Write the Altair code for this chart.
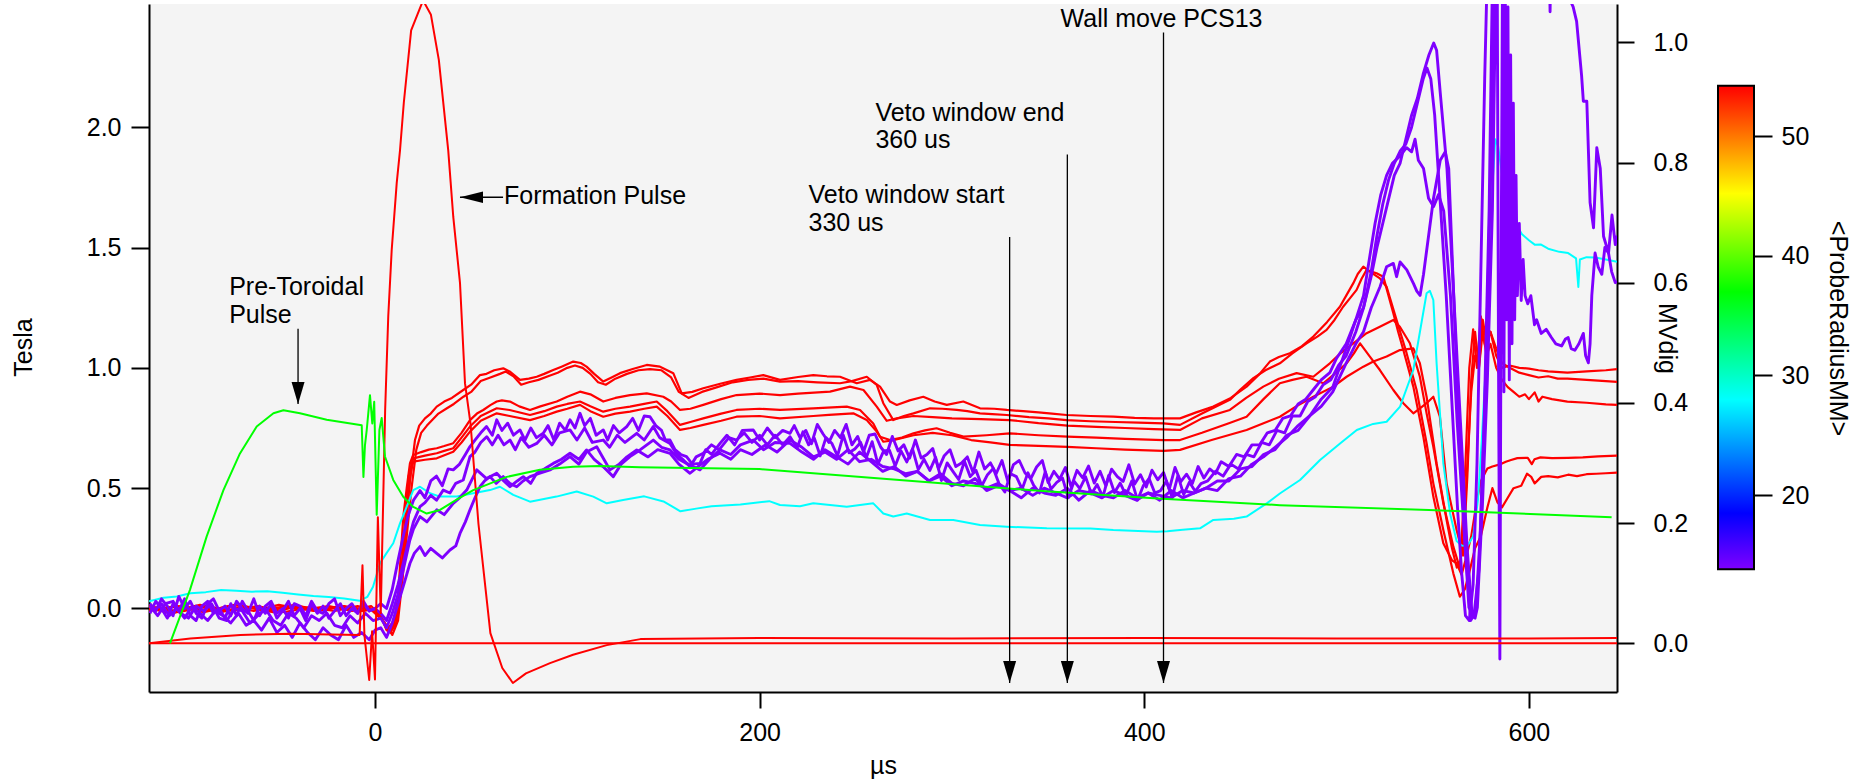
import altair as alt
import pandas as pd

FONT = "Liberation Sans"

# ---------------- axes / scales ----------------
X_DOMAIN = [-117.5, 645.8]
TESLA_DOMAIN = [-0.347, 2.512]
MV_DOMAIN = [-0.081, 1.064]
CBAR_DOMAIN = [3.55, 61.03]
CBAR_RANGE = [13.8, 54.2]

X_TICKS = [0, 200, 400, 600]
TESLA_TICKS = [0.0, 0.5, 1.0, 1.5, 2.0]
MV_TICKS = [0.0, 0.2, 0.4, 0.6, 0.8, 1.0]
CBAR_TICKS = [20, 30, 40, 50]

RADIUS_STOPS = [14, 18.5, 28, 37, 45.2, 54]
RADIUS_COLORS = ["#7f00ff", "#0000ff", "#00ffff", "#00ff00", "#ffff00", "#ff0000"]
CBAR_OFFSETS = [0.0, 0.116, 0.351, 0.574, 0.777, 1.0]

# ---------------- Tesla (left axis) probe traces: (µs, T) ----------------
RED_A = [(-117.5,0.0),(-105,-0.02),(-92,0.01),(-80,-0.015),(-68,0.01),(-55,-0.01),(-42,0.015),(-30,-0.01),(-18,0.01),(-8,0.0),(-2,0.01),(3,-0.03),(6,-0.09),(9,-0.08),(11,-0.02),(13,0.1),(15.5,0.3),(18.2,0.534),(20.8,0.70),(23,0.76),(26,0.79),(29,0.81),(32.1,0.839),(36,0.86),(40,0.875),(45.9,0.908),(50,0.93),(54.6,0.97),(58,0.975),(62,0.99),(66.7,0.998),(70,0.985),(75.4,0.95),(80,0.955),(84.1,0.963),(88,0.975),(92.7,0.991),(97,1.005),(103.1,1.026),(107,1.02),(110,1.005),(114,0.975),(118.7,0.943),(123,0.96),(127.4,0.978),(134,0.995),(141.3,1.012),(148.2,1.005),(155.1,0.978),(159.5,0.894),(165,0.9),(170.7,0.915),(180,0.935),(188,0.95),(195,0.96),(201.9,0.97),(210.6,0.95),(220,0.962),(227.9,0.97),(235,0.965),(241.8,0.963),(250.5,0.936),(257.4,0.95),(262.6,0.922),(267.8,0.86),(271.3,0.846),(278,0.865),(285.1,0.88),(291,0.86),(297.3,0.846),(305.9,0.86),(314.6,0.832),(322,0.83),(328.5,0.825),(337,0.82),(345,0.815),(352,0.81),(359.6,0.804),(372,0.8),(383.9,0.797),(395,0.792),(405,0.79),(418.6,0.79),(427,0.815),(435.9,0.839),(445,0.875),(453.2,0.922),(460,0.975),(465.3,1.026),(470,1.045),(475.7,1.061),(482,1.09),(487.9,1.13),(495,1.19),(501.7,1.254),(505,1.3),(508.7,1.352),(511,1.39),(513.9,1.421),(517.3,1.40),(522.5,1.372),(526,1.337),(531.2,1.199),(536.4,1.061),(541.6,0.908),(546.8,0.687),(550.3,0.52),(555.5,0.326),(560.7,0.146),(564.1,0.049),(566.7,0.08),(569,0.15),(572,0.25),(575,0.3),(578.4,0.42),(581,0.5),(583.7,0.44),(586,0.42),(589,0.46),(592,0.5),(596,0.51),(599,0.56),(601.2,0.547),(603,0.52),(606.4,0.547),(610,0.55),(615,0.545),(620.4,0.556),(625,0.55),(630,0.558),(635,0.56),(640,0.562),(645.8,0.565)]

RED_B = [(-117.5,0.01),(-104,-0.01),(-91,0.015),(-78,-0.01),(-66,0.005),(-53,-0.015),(-40,0.01),(-28,-0.005),(-16,0.01),(-6,-0.01),(0,0.0),(4,-0.05),(7,-0.1),(10,-0.06),(12,0.0),(14,0.1),(16.5,0.3),(19,0.5),(21.5,0.66),(24,0.73),(27,0.76),(30,0.785),(33,0.81),(37,0.83),(41,0.85),(46,0.88),(50,0.9),(55,0.945),(60,0.96),(65,0.975),(68,0.985),(72,0.965),(76,0.93),(80,0.94),(85,0.95),(90,0.965),(95,0.98),(100,1.0),(104,1.01),(108,1.0),(112,0.975),(116,0.94),(120,0.93),(125,0.955),(131,0.975),(137,0.99),(143,0.995),(149,0.99),(154,0.96),(158,0.9),(163,0.875),(170,0.9),(178,0.92),(186,0.94),(194,0.95),(202,0.955),(210.6,0.943),(220,0.945),(230,0.94),(241.8,0.936),(248,0.945),(255.7,0.963),(260.9,0.929),(264.3,0.853),(269.5,0.783),(275,0.8),(280,0.811),(288.6,0.832),(295,0.83),(302.5,0.825),(308,0.82),(314.6,0.811),(321,0.808),(328.5,0.804),(340,0.795),(350,0.79),(359.6,0.783),(372,0.778),(385,0.775),(397,0.772),(409.9,0.769),(418.6,0.763),(430,0.81),(444.5,0.867),(450,0.91),(456.7,0.957),(463,0.99),(470.5,1.019),(477,1.06),(484.4,1.102),(490,1.13),(494.8,1.158),(499,1.2),(503.4,1.254),(507,1.29),(510.4,1.324),(513,1.37),(515.6,1.407),(518,1.40),(520.8,1.393),(524.3,1.379),(527,1.3),(529.5,1.227),(532,1.15),(534.7,1.074),(539.9,0.922),(545.1,0.714),(550.3,0.465),(555.5,0.271),(560,0.2),(562.4,0.188),(565,0.14),(567,0.2),(570,0.3),(573,0.45),(575,0.53),(578.4,0.582),(581,0.59),(585.4,0.6),(588,0.61),(590.7,0.617),(594,0.625),(599.4,0.626),(601.5,0.6),(602.9,0.62),(606,0.628),(612,0.625),(620.4,0.626),(628,0.628),(636,0.632),(645.8,0.635)]

RED_C = [(-117.5,-0.01),(-103,0.01),(-89,-0.015),(-76,0.01),(-63,-0.01),(-50,0.015),(-37,-0.005),(-24,0.01),(-12,-0.01),(-3,0.005),(3,-0.04),(7,-0.08),(10,-0.05),(12,0.05),(14.7,0.38),(16.5,0.5),(18.2,0.604),(19.9,0.638),(24,0.65),(28,0.66),(32.1,0.666),(36,0.675),(40.7,0.687),(45,0.73),(49.4,0.783),(53,0.81),(56.3,0.825),(60,0.845),(63.3,0.86),(66,0.865),(70.2,0.86),(75,0.84),(80.6,0.825),(86,0.84),(94.5,0.86),(100,0.88),(106.6,0.901),(112,0.89),(118.7,0.86),(125,0.875),(132.6,0.887),(141.3,0.894),(149.9,0.88),(154,0.86),(158.6,0.825),(164,0.83),(170.7,0.846),(180,0.87),(188,0.887),(200,0.893),(210.6,0.887),(220,0.893),(236.6,0.901),(247,0.922),(254,0.908),(260.9,0.839),(266.1,0.78),(271.3,0.79),(280,0.80),(290,0.795),(300,0.79),(315,0.787),(330,0.783),(345,0.77),(360,0.76),(375,0.755),(390,0.75),(405,0.745),(418.6,0.742),(430,0.79),(444.5,0.825),(453,0.875),(461.9,0.922),(470,0.955),(479.2,0.978),(487.9,0.963),(496.5,1.019),(502,1.06),(508.7,1.102),(515.6,1.144),(522.5,1.171),(529.5,1.199),(532.9,1.171),(538.1,1.102),(543.3,0.963),(546.8,0.811),(550.3,0.672),(555.5,0.437),(560.7,0.257),(564,0.17),(566,0.3),(568,0.6),(570,0.9),(572,1.05),(574,1.0),(576,1.15),(578,1.05),(580,1.1),(583,1.0),(586,0.95),(589,0.92),(592,0.9),(595,0.88),(598,0.89),(600,0.87),(603,0.898),(605,0.86),(607,0.88),(612,0.87),(620,0.86),(630,0.855),(640,0.848),(645.8,0.846)]

RED_D = [(-117.5,0.005),(-102,-0.015),(-88,0.01),(-74,-0.01),(-61,0.01),(-47,-0.015),(-34,0.005),(-21,-0.01),(-9,0.01),(-2,-0.005),(4,-0.05),(8,-0.1),(11,-0.06),(13,0.05),(15.5,0.35),(17.5,0.55),(19.9,0.624),(26,0.635),(32.1,0.645),(36,0.655),(40.7,0.666),(45,0.71),(49.4,0.756),(55,0.8),(63.3,0.832),(70,0.825),(80.6,0.804),(88,0.82),(94.5,0.839),(100,0.85),(106.6,0.86),(112,0.84),(118.7,0.818),(125,0.83),(132.6,0.839),(140,0.85),(146.5,0.86),(152,0.82),(158.6,0.763),(164,0.775),(170.7,0.79),(180,0.81),(188,0.825),(200,0.83),(210.6,0.825),(227.9,0.832),(245.3,0.839),(252.2,0.825),(259.1,0.769),(262.6,0.714),(267.8,0.70),(274,0.71),(280,0.728),(286,0.74),(292,0.749),(299,0.73),(306,0.714),(318,0.72),(330,0.728),(345,0.72),(360,0.714),(375,0.71),(390,0.705),(410,0.70),(418.6,0.70),(430,0.73),(444,0.77),(453.2,0.797),(462,0.87),(470.5,0.936),(477,0.95),(484.4,0.963),(493.1,0.936),(499,0.975),(505.2,1.019),(509,1.06),(512.2,1.102),(517.3,1.047),(522.5,0.991),(529.5,0.908),(534.7,0.853),(539.9,0.811),(543,0.83),(546.8,0.853),(550.3,0.88),(553.7,0.797),(557.2,0.52),(562.4,0.326),(565.8,0.22),(568,0.55),(570,0.95),(572,1.15),(574,1.0),(576,1.2),(578,1.1),(580,1.15),(583,1.08),(586,1.02),(590,1.0),(595,0.98),(600,0.97),(605,0.96),(610,0.965),(615,0.955),(620,0.955),(630,0.95),(640,0.945),(645.8,0.942)]

RED_E = [(-117.5,-0.005),(-101,0.01),(-87,-0.01),(-73,0.015),(-59,-0.005),(-45,0.01),(-32,-0.01),(-19,0.005),(-7,-0.01),(0,0.0),(5,-0.06),(9,-0.11),(12,-0.05),(14,0.1),(16.5,0.4),(18.5,0.56),(19.9,0.61),(26,0.618),(32.1,0.624),(40.7,0.651),(45,0.69),(49.4,0.735),(55,0.78),(63.3,0.811),(70,0.8),(80.6,0.783),(88,0.8),(94.5,0.818),(100,0.83),(106.6,0.846),(112,0.82),(118.7,0.797),(125,0.81),(132.6,0.818),(140,0.83),(146.5,0.839),(152,0.8),(158.6,0.742),(164,0.75),(170.7,0.763),(180,0.78),(188,0.797),(200,0.8),(210.6,0.79),(227.9,0.8),(236,0.805),(248.7,0.811),(255.7,0.783),(260.9,0.735),(264.3,0.693),(270,0.70),(280,0.72),(290,0.73),(300,0.72),(310,0.7),(320,0.69),(330,0.68),(345,0.676),(360,0.672),(375,0.666),(390,0.66),(409.9,0.655),(418.6,0.659),(435,0.7),(453.2,0.742),(462,0.77),(470.5,0.797),(479,0.84),(487.9,0.88),(498.3,0.922),(505.2,0.963),(513.9,1.005),(519.1,1.026),(526,1.047),(532.9,1.074),(539.9,1.081),(543.3,1.019),(546.8,0.88),(552,0.603),(557.2,0.368),(560,0.25),(562.5,0.17),(564.5,0.2),(567,0.6),(569,1.0),(571,1.16),(573,1.0),(575,1.214),(577,1.1),(580,1.15),(583,1.05),(586,1.0),(590,1.01),(595,1.0),(600,0.997),(605,0.99),(610,0.985),(620,0.98),(630,0.985),(640,0.99),(645.8,0.995)]

CYAN = [(-117.5,0.03),(-110,0.045),(-103,0.05),(-96,0.063),(-88,0.068),(-80,0.077),(-72,0.074),(-64,0.07),(-56,0.072),(-48,0.065),(-40,0.058),(-32,0.052),(-24,0.048),(-16,0.042),(-8,0.032),(-4,0.048),(-1,0.09),(2.6,0.188),(6,0.23),(9.5,0.271),(13,0.354),(16.5,0.423),(19.9,0.492),(23.4,0.506),(28.6,0.479),(33.8,0.465),(42.5,0.465),(51.1,0.479),(59.8,0.492),(65,0.506),(71.9,0.472),(80.6,0.444),(94.4,0.465),(104.9,0.486),(113.5,0.465),(120.5,0.437),(129,0.451),(140,0.466),(150,0.445),(158.8,0.404),(167,0.415),(175,0.425),(190,0.432),(205,0.446),(210.6,0.43),(221,0.425),(227.9,0.437),(245.3,0.423),(259.1,0.437),(264.3,0.395),(269.5,0.382),(276.5,0.395),(288.6,0.368),(300.7,0.368),(314.6,0.347),(328.5,0.34),(349.3,0.333),(372,0.332),(383.9,0.326),(406.5,0.319),(412,0.321),(418.6,0.326),(429,0.333),(435.9,0.368),(446.6,0.373),(453.2,0.382),(463.7,0.437),(470.5,0.478),(481,0.534),(491.4,0.617),(501.8,0.686),(510.5,0.742),(519,0.767),(526,0.776),(533,0.839),(539.9,0.991),(546.8,1.31),(548.5,1.32),(550.3,1.282),(552,1.019),(555.5,0.603),(559,0.395),(562.4,0.28),(565,0.262),(568,0.26),(571,0.3),(573.5,0.45),(575.5,0.7),(577.5,1.0),(579.5,1.4),(581,1.75),(582.5,1.95),(584,1.92),(587,1.75),(590.6,1.658),(593,1.6),(596.4,1.555),(600,1.53),(603,1.512),(606.1,1.513),(610,1.495),(615.8,1.482),(620.4,1.477),(624.5,1.455),(625.7,1.336),(626.5,1.45),(630,1.46),(634.4,1.459),(640,1.45),(645.8,1.441)]

PURPLE_A = [(-117,0.02),(-114,-0.01),(-111,0.04),(-108,0.01),(-105,-0.03),(-102,0.05),(-99,0.0),(-96,0.03),(-93,-0.02),(-90,-0.04),(-87,0.02),(-84,0.04),(-81,-0.01),(-78,0.01),(-75,-0.03),(-72,0.03),(-69,0.0),(-66,-0.02),(-63,0.04),(-60,-0.03),(-57,0.01),(-54,0.03),(-51,-0.02),(-48,0.0),(-45,-0.04),(-42,0.02),(-39,0.01),(-36,-0.03),(-33,0.03),(-30,-0.01),(-27,-0.02),(-24,0.02),(-21,0.04),(-18,-0.03),(-15,0.0),(-12,0.02),(-9,-0.02),(-6,0.03),(-3,-0.01),(0,0.0),(3,0.02),(6,0.0),(9,0.08),(12,0.2),(14.7,0.3),(17,0.38),(20,0.45),(23.4,0.49),(26,0.46),(29,0.53),(32,0.55),(35,0.51),(38,0.58),(40.7,0.576),(44,0.6),(47,0.64),(49.4,0.673),(52,0.7),(55,0.73),(58,0.756),(61,0.72),(63.3,0.784),(66,0.74),(69,0.77),(72,0.72),(75.4,0.742),(78,0.70),(81,0.75),(84,0.71),(87.5,0.728),(90,0.76),(93,0.70),(96,0.77),(99,0.74),(101.4,0.784),(104,0.75),(106.6,0.811),(109,0.76),(112,0.79),(115,0.72),(118.7,0.742),(121,0.70),(124,0.76),(127,0.73),(130.9,0.756),(134,0.79),(137,0.74),(140,0.80),(143,0.797),(146,0.76),(149,0.74),(151,0.70),(153.4,0.70),(156,0.66),(159,0.64),(162,0.631),(165,0.60),(169,0.603),(172,0.66),(175,0.64),(179.4,0.686),(183,0.72),(187,0.68),(191,0.74),(196.7,0.742),(200,0.70),(204,0.75),(208,0.71),(212,0.74),(215.8,0.728),(218,0.76),(221,0.71),(224,0.74),(227,0.685),(230,0.765),(233,0.725),(236,0.69),(239,0.74),(242,0.71),(245,0.765),(248,0.68),(251,0.715),(254,0.65),(257,0.72),(260,0.725),(263,0.67),(266,0.64),(269,0.715),(272,0.655),(275,0.68),(278,0.625),(281,0.70),(284,0.625),(287,0.64),(290,0.665),(293,0.58),(296,0.635),(299,0.66),(302,0.59),(305,0.605),(308,0.63),(311,0.565),(314,0.65),(317,0.58),(320,0.605),(323,0.56),(326,0.615),(329,0.53),(332,0.598),(335,0.615),(338,0.563),(341,0.54),(344,0.588),(347,0.615),(350,0.523),(353,0.57),(356,0.538),(359,0.586),(362,0.505),(365,0.574),(368,0.543),(371,0.592),(374,0.521),(377,0.57),(380,0.51),(383,0.579),(386,0.548),(389,0.528),(392,0.597),(395,0.517),(398,0.556),(401,0.505),(404,0.575),(407,0.535),(410,0.565),(413,0.495),(416,0.586),(419,0.527),(422,0.558),(425,0.519),(428,0.59),(431,0.542),(434,0.58),(437,0.56),(440,0.61),(444,0.59),(448,0.64),(452,0.63),(456,0.68),(460,0.68),(464,0.73),(468,0.74),(472,0.79),(476,0.80),(480,0.85),(484,0.87),(488,0.91),(492,0.95),(496.5,0.98),(500,1.04),(505,1.10),(510,1.20),(514,1.25),(518,1.38),(521,1.50),(524,1.60),(527,1.70),(530,1.80),(533,1.85),(536,1.95),(539,2.05),(542,2.12),(545,2.22),(548,2.30),(550.5,2.35),(552,2.32),(553.9,2.143),(557.4,1.828),(560.9,1.301),(564.4,0.775),(567.9,0.249),(570.5,-0.032),(572,-0.04),(573.2,0.004),(575.8,0.424),(578.4,0.951),(581,1.652),(582.8,2.6),(583.5,2.7),(584.2,1.0),(584.9,-0.21),(585.6,1.5),(586.3,2.7),(587,0.9),(587.7,2.6),(588.4,1.2),(589.1,2.5),(589.8,0.95),(590.5,2.3),(591.2,1.1),(591.9,2.1),(592.6,1.2),(593.3,1.8),(594,1.3),(595,1.6),(596,1.28),(597,1.45),(598,1.3),(599.4,1.266),(601,1.3),(602.9,1.179),(604,1.2),(606.4,1.143),(609,1.16),(611.7,1.126),(614,1.10),(617,1.091),(619,1.12),(620.4,1.126),(622,1.08),(623.9,1.073),(626,1.10),(628.3,1.143),(629.5,1.05),(630.9,1.021),(631.8,1.10),(632.7,1.301),(634.4,1.477),(636,1.42),(637.9,1.389),(639.5,1.50),(641.4,1.477),(643,1.40),(644.9,1.354),(645.8,1.36)]

PURPLE_B = [(-117,-0.02),(-114,0.03),(-111,0.0),(-108,-0.04),(-105,0.02),(-102,-0.01),(-99,0.04),(-96,-0.03),(-93,-0.05),(-90,0.01),(-87,0.03),(-84,-0.02),(-81,0.0),(-78,-0.04),(-75,0.02),(-72,-0.03),(-69,0.03),(-66,-0.01),(-63,-0.05),(-60,0.01),(-57,-0.02),(-54,0.02),(-51,-0.04),(-48,-0.01),(-45,0.03),(-42,-0.03),(-39,0.0),(-36,-0.05),(-33,0.02),(-30,-0.02),(-27,0.01),(-24,-0.04),(-21,-0.01),(-18,0.02),(-15,-0.03),(-12,0.0),(-9,-0.02),(-6,0.02),(-3,-0.01),(0,0.0),(3,-0.02),(6,-0.05),(9,0.02),(12,0.10),(14.7,0.188),(18,0.30),(20,0.36),(23.4,0.423),(26,0.44),(29,0.47),(32,0.45),(35.5,0.492),(39,0.48),(42,0.52),(45.9,0.534),(49.4,0.631),(52,0.65),(55,0.69),(58.1,0.714),(61,0.68),(64,0.72),(67,0.68),(70.2,0.70),(73,0.66),(76,0.71),(80,0.67),(84.1,0.686),(88,0.72),(92,0.68),(96,0.73),(101.4,0.742),(105,0.70),(109,0.75),(113,0.69),(118.7,0.70),(122,0.67),(126,0.72),(130,0.69),(136.1,0.728),(140,0.70),(144.7,0.756),(148,0.71),(153.4,0.686),(157,0.64),(160,0.62),(163.8,0.589),(167,0.63),(170.7,0.645),(175,0.68),(179,0.66),(184,0.71),(188,0.70),(192,0.73),(196,0.69),(200,0.72),(204,0.68),(208,0.72),(212,0.68),(215.8,0.714),(219.5,0.667),(222.5,0.734),(225.5,0.68),(228.5,0.707),(231.5,0.634),(234.5,0.71),(237.5,0.687),(240.5,0.634),(243.5,0.72),(246.5,0.647),(249.5,0.663),(252.5,0.69),(255.5,0.627),(258.5,0.693),(261.5,0.60),(264.5,0.655),(267.5,0.658),(270.5,0.592),(273.5,0.655),(276.5,0.609),(279.5,0.663),(282.5,0.577),(285.5,0.62),(288.5,0.574),(291.5,0.628),(294.5,0.532),(297.5,0.605),(300.5,0.57),(303.5,0.536),(306.5,0.612),(309.5,0.548),(312.5,0.574),(315.5,0.51),(318.5,0.556),(321.5,0.582),(324.5,0.518),(327.5,0.484),(330.5,0.56),(333.5,0.548),(336.5,0.496),(339.5,0.564),(342.5,0.512),(345.5,0.48),(348.5,0.568),(351.5,0.496),(354.5,0.524),(357.5,0.542),(360.5,0.46),(363.5,0.529),(366.5,0.498),(369.5,0.547),(372.5,0.476),(375.5,0.515),(378.5,0.464),(381.5,0.553),(384.5,0.482),(387.5,0.521),(390.5,0.47),(393.5,0.53),(396.5,0.45),(399.5,0.51),(402.5,0.54),(405.5,0.48),(408.5,0.49),(411.5,0.53),(414.5,0.461),(417.5,0.552),(420.5,0.473),(423.5,0.525),(426.5,0.487),(429.5,0.519),(433,0.53),(437,0.57),(441,0.55),(445,0.60),(449,0.58),(453,0.64),(457,0.63),(461,0.69),(465,0.68),(469,0.74),(473,0.73),(477,0.80),(481,0.80),(485,0.86),(489,0.88),(493,0.93),(497,0.95),(501,1.01),(505,1.05),(510,1.15),(514,1.25),(518,1.40),(521,1.55),(524,1.68),(527,1.78),(530,1.85),(533,1.90),(536,1.93),(539,2.00),(542,2.10),(545,2.20),(547,2.246),(549,2.20),(551,2.05),(553,1.80),(555,1.55),(557,1.30),(559,1.00),(561,0.70),(563,0.40),(565,0.15),(567,-0.03),(569,-0.05),(571,0.10),(573,0.60),(575,1.40),(577,2.20),(578.5,2.70),(580,3.0),(610,3.0),(611,2.48),(612,3.0),(619,3.0),(621.3,2.53),(623,2.50),(624.8,2.44),(627.4,2.213),(628.3,2.108),(630.1,2.108),(631.8,1.687),(633.6,1.582),(635.3,1.915),(637.1,1.828),(638.8,1.547),(641.4,1.477),(643.2,1.635),(644.9,1.512),(645.8,1.55)]

PURPLE_C = [(-117,0.01),(-113,-0.03),(-109,0.02),(-105,0.03),(-101,-0.02),(-97,-0.04),(-93,0.01),(-89,-0.01),(-85,0.02),(-81,-0.04),(-77,-0.05),(-73,0.0),(-69,-0.01),(-65,-0.06),(-61,-0.03),(-57,0.0),(-53,-0.05),(-49,-0.07),(-45,-0.02),(-41,-0.04),(-37,-0.08),(-33,-0.03),(-29,-0.05),(-25,-0.02),(-21,-0.07),(-17,-0.08),(-13,-0.03),(-9,-0.06),(-5,-0.02),(-1,-0.05),(3,-0.04),(6,-0.08),(9,-0.02),(12,0.06),(14.7,0.16),(18,0.28),(20,0.33),(23.4,0.382),(27,0.36),(32.1,0.41),(36,0.39),(40.7,0.437),(44,0.46),(47.7,0.492),(52.9,0.576),(58,0.54),(63.3,0.562),(67,0.53),(70.2,0.506),(74,0.53),(77.1,0.548),(81,0.52),(84.1,0.562),(88,0.58),(92.7,0.603),(97,0.62),(101.4,0.645),(106,0.62),(110,0.659),(114,0.62),(118.7,0.589),(123.9,0.548),(128,0.60),(132.6,0.631),(138,0.66),(144.7,0.70),(149,0.67),(153.4,0.659),(158,0.62),(162,0.603),(169,0.576),(174,0.62),(179.4,0.659),(185,0.64),(190,0.68),(196.7,0.70),(202,0.66),(208,0.69),(215.8,0.686),(222,0.65),(228,0.62),(234,0.66),(240,0.63),(246,0.60),(252,0.65),(258,0.61),(264,0.57),(270,0.59),(276,0.55),(282,0.57),(288,0.53),(294,0.56),(300,0.52),(306,0.51),(312,0.54),(318,0.49),(324,0.51),(330,0.49),(336,0.46),(342,0.50),(348,0.48),(354,0.47),(360,0.50),(366,0.45),(372,0.49),(378,0.47),(384,0.46),(390,0.49),(396,0.46),(402,0.48),(408,0.45),(414,0.49),(420,0.46),(426,0.48),(432,0.50),(438,0.49),(444,0.54),(450,0.55),(456,0.60),(462,0.63),(468,0.67),(474,0.71),(480,0.76),(486,0.80),(492,0.87),(498,0.92),(505,1.08),(510,1.20),(514,1.30),(517,1.45),(520,1.60),(523,1.72),(526,1.80),(529,1.85),(532.9,1.88),(536.4,1.915),(539,1.898),(540.8,1.95),(542.5,1.863),(545.2,1.828),(547.8,1.705),(550.4,1.67),(553,1.72),(555.7,1.652),(559.2,1.301),(562.7,0.775),(566.2,0.337),(568.8,0.004),(571.4,-0.03),(574,0.16),(576.7,0.775),(579.3,1.652),(581,2.6),(583,3.0),(645.8,3.0)]

PURPLE_D = [(-115,-0.01),(-111,0.02),(-107,-0.03),(-103,0.0),(-99,-0.04),(-95,0.01),(-91,-0.02),(-87,-0.05),(-83,-0.01),(-79,-0.03),(-75,-0.06),(-71,-0.02),(-67,-0.07),(-63,-0.05),(-59,-0.09),(-55,-0.04),(-51,-0.10),(-47,-0.07),(-43,-0.12),(-39,-0.06),(-35,-0.10),(-31,-0.13),(-27,-0.08),(-23,-0.11),(-19,-0.13),(-15,-0.07),(-11,-0.12),(-7,-0.10),(-3,-0.13),(0,-0.09),(3,-0.08),(6,-0.12),(9,-0.06),(12,0.02),(15,0.10),(18.2,0.188),(20.5,0.23),(23.4,0.257),(26,0.22),(29,0.25),(32.1,0.229),(35,0.21),(39,0.243),(42,0.26),(44.2,0.312),(47,0.36),(49.4,0.41),(52,0.46),(54.6,0.506),(57,0.53),(59.8,0.548),(63,0.52),(66.7,0.548),(70,0.52),(73.7,0.506),(77,0.53),(80.6,0.548),(85,0.56),(91,0.576),(96,0.60),(101.4,0.631),(106,0.60),(110,0.65),(115.3,0.672),(119,0.62),(122.2,0.576),(127,0.60),(131,0.63),(136.1,0.659),(142,0.63),(147,0.66),(153.4,0.645),(158,0.60),(163.8,0.562),(168,0.59),(173,0.62),(179.4,0.645),(185,0.62),(190,0.66),(196,0.64),(203,0.68),(209,0.65),(215.8,0.70),(222,0.67),(228,0.63),(234,0.65),(240,0.62),(246,0.66),(252,0.61),(258,0.62),(264,0.59),(270,0.58),(276,0.56),(282,0.57),(288,0.53),(294,0.55),(300,0.51),(306,0.53),(312,0.52),(318,0.50),(324,0.52),(330,0.49),(336,0.50),(342,0.47),(348,0.50),(354,0.48),(360,0.46),(366,0.49),(372,0.48),(378,0.46),(384,0.49),(390,0.47),(396,0.45),(402,0.48),(408,0.47),(414,0.46),(420,0.49),(426,0.48),(432,0.50),(438,0.53),(444,0.53),(450,0.58),(456,0.59),(462,0.64),(468,0.66),(474,0.72),(480,0.74),(486,0.80),(492,0.84),(498,0.90),(505,1.02),(510,1.10),(514,1.15),(518,1.25),(522.6,1.337),(526,1.42),(529.5,1.434),(531.2,1.379),(533,1.44),(536.5,1.407),(540,1.35),(541.7,1.319),(543.4,1.301),(545.2,1.389),(547.8,1.547),(550.4,1.705),(553.9,1.863),(556.5,1.898),(558.3,1.828),(560.9,1.301),(563.5,0.775),(567,0.249),(569.7,-0.05),(572.3,-0.015),(574.9,0.337),(577.5,0.951),(580.2,1.827),(581.9,2.6),(590,3.0),(645.8,3.0)]

# ---------------- MVdig (right axis) traces ----------------
FLAT_RED = [(-117.5,0.0),(100,0.0),(300,0.0),(500,0.0),(645.8,0.0)]

FORMATION = [(-117.5,0.0),(-96,0.008),(-70,0.014),(-44,0.016),(-8,0.014),(-6.5,0.13),(-5.5,0.014),(-3,-0.061),(-1.5,0.02),(0,-0.06),(1.5,0.21),(3,0.05),(5.3,0.39),(6.9,0.544),(8.7,0.655),(11.3,0.766),(13,0.82),(15,0.9),(18.8,1.02),(25,1.07),(29.1,1.046),(33.2,0.971),(38.1,0.82),(40.7,0.71),(44.2,0.60),(46.8,0.433),(49.7,0.365),(53.8,0.199),(60,0.017),(66.2,-0.041),(71.7,-0.066),(78.5,-0.05),(91,-0.033),(103,-0.019),(120.5,-0.003),(138,0.007),(200,0.009),(300,0.008),(400,0.009),(500,0.008),(600,0.008),(645.8,0.009)]

GREEN = [(-106.6,0.0),(-96.2,0.089),(-87.5,0.178),(-78.8,0.255),(-70.2,0.316),(-61.5,0.361),(-52.8,0.383),(-47.6,0.388),(-39,0.383),(-25.1,0.372),(-6.9,0.363),(-6,0.277),(-5.2,0.33),(-4.3,0.355),(-2.6,0.413),(-1.4,0.366),(-0.4,0.402),(0.9,0.214),(2.3,0.355),(3.5,0.375),(5.2,0.311),(9.5,0.272),(14.7,0.244),(19.9,0.227),(26.9,0.216),(33.8,0.222),(42.5,0.239),(51.1,0.255),(68.5,0.277),(85.8,0.289),(103,0.294),(117,0.295),(137.8,0.293),(199.9,0.29),(279.4,0.27),(349,0.253),(407,0.241),(470.5,0.23),(548,0.222),(643,0.21)]

# ---------------- annotations ----------------
ARROW_T = [-40, 330, 360, 410]
ARROW_TOP = [1.162, 1.544, 1.887, 2.394]
ARROW_TIP = [0.85, -0.31, -0.31, -0.31]

FORM_ARROW_TIP_T = 44.2
FORM_ARROW_END_T = 66.6
FORM_ARROW_Y = 1.709

LABEL_TEXT = ["Pre-Toroidal", "Pulse", "Formation Pulse", "Veto window start", "330 us",
              "Veto window end", "360 us", "Wall move PCS13"]
LABEL_T = [-75.8, -75.8, 67.1, 225.4, 225.4, 260.2, 260.2, 356.5]
LABEL_Y = [1.303, 1.188, 1.680, 1.683, 1.569, 2.025, 1.914, 2.415]


def frame(name, radius, pts):
    return pd.DataFrame({"t": [p[0] for p in pts], "v": [p[1] for p in pts],
                         "series": name, "radius": radius})


red_df = pd.concat([frame("A", 54, RED_A), frame("B", 54, RED_B), frame("C", 54, RED_C),
                    frame("D", 54, RED_D), frame("E", 54, RED_E)], ignore_index=True)
cyan_df = frame("cyan", 28, CYAN)
purple_df = pd.concat([frame("PA", 14, PURPLE_A), frame("PB", 14, PURPLE_B),
                       frame("PC", 14, PURPLE_C), frame("PD", 14, PURPLE_D)], ignore_index=True)
mv_df = pd.concat([frame("flat", 54, FLAT_RED), frame("formation", 54, FORMATION),
                   frame("green", 37, GREEN)], ignore_index=True)
arrow_df = pd.DataFrame({"t": ARROW_T, "top": ARROW_TOP, "tip": ARROW_TIP})
form_df = pd.DataFrame({"tip": [FORM_ARROW_TIP_T], "end": [FORM_ARROW_END_T], "y": [FORM_ARROW_Y]})
label_df = pd.DataFrame({"label": LABEL_TEXT, "t": LABEL_T, "v": LABEL_Y})
cbar_df = pd.DataFrame({"lo": [CBAR_RANGE[0]], "hi": [CBAR_RANGE[1]]})

xs = alt.Scale(domain=X_DOMAIN, nice=False, zero=False)
ts = alt.Scale(domain=TESLA_DOMAIN, nice=False, zero=False)
ms = alt.Scale(domain=MV_DOMAIN, nice=False, zero=False)
cs = alt.Scale(domain=CBAR_DOMAIN, nice=False, zero=False)

color_enc = alt.Color("radius:Q", legend=None,
                      scale=alt.Scale(domain=RADIUS_STOPS, range=RADIUS_COLORS, interpolate="rgb"))

x_axis = alt.Axis(values=X_TICKS, format="d", title="µs", tickSize=16, labelPadding=12,
                  titleY=81, titleBaseline="alphabetic")
tesla_axis = alt.Axis(orient="left", values=TESLA_TICKS, format=".1f", title="Tesla", tickSize=18,
                      labelPadding=10, titleAngle=270, titleX=-126, titleY=343,
                      titleAlign="center", titleBaseline="middle")
hidden_axis = alt.Axis(orient="left", domain=False, ticks=False, labels=False, title="")
mv_axis = alt.Axis(orient="right", values=MV_TICKS, format=".1f", title="MVdig", tickSize=17,
                   labelPadding=19, titleAngle=90, titleX=49, titleY=334, titleAlign="center",
                   titleBaseline="middle")
cbar_axis = alt.Axis(orient="right", offset=137, values=CBAR_TICKS, format="d", domain=False,
                     tickSize=18, labelPadding=9, title="<ProbeRadiusMM>", titleAngle=90,
                     titleX=83, titleY=324, titleAlign="center", titleBaseline="middle")

X = alt.X("t:Q", scale=xs, axis=x_axis)


def line_layer(df, width):
    return alt.Chart(df).mark_line(clip=True, strokeWidth=width, strokeJoin="round").encode(
        x=X,
        y=alt.Y("v:Q", scale=ts, axis=tesla_axis),
        color=color_enc,
        detail="series:N",
    )


tesla_lines = alt.layer(
    line_layer(red_df, 2.2),
    line_layer(cyan_df, 2.0),
    line_layer(purple_df, 2.9),
)

mv_lines = alt.Chart(mv_df).mark_line(clip=True, strokeWidth=2.0, strokeJoin="round").encode(
    x=X,
    y=alt.Y("v:Q", scale=ms, axis=mv_axis),
    color=color_enc,
    detail="series:N",
)

arrow_rules = alt.Chart(arrow_df).mark_rule(color="black", strokeWidth=1.3).encode(
    x=alt.X("t:Q", scale=xs, axis=x_axis),
    y=alt.Y("top:Q", scale=ts, axis=hidden_axis),
    y2="tip:Q",
)
arrow_heads = alt.Chart(arrow_df).mark_point(
    shape="M-0.59,-1L0.59,-1L0,1Z", size=484, filled=True, color="black", opacity=1,
    strokeWidth=0, yOffset=-11,
).encode(
    x=alt.X("t:Q", scale=xs, axis=x_axis),
    y=alt.Y("tip:Q", scale=ts, axis=hidden_axis),
)
form_rule = alt.Chart(form_df).mark_rule(color="black", strokeWidth=1.3).encode(
    x=alt.X("tip:Q", scale=xs, axis=x_axis),
    x2="end:Q",
    y=alt.Y("y:Q", scale=ts, axis=hidden_axis),
)
form_head = alt.Chart(form_df).mark_point(
    shape="M1,-0.5L1,0.5L-1,0Z", size=529, filled=True, color="black", opacity=1,
    strokeWidth=0, xOffset=11.5,
).encode(
    x=alt.X("tip:Q", scale=xs, axis=x_axis),
    y=alt.Y("y:Q", scale=ts, axis=hidden_axis),
)
labels = alt.Chart(label_df).mark_text(
    align="left", baseline="alphabetic", font=FONT, fontSize=25, color="black"
).encode(
    x=alt.X("t:Q", scale=xs, axis=x_axis),
    y=alt.Y("v:Q", scale=ts, axis=hidden_axis),
    text="label:N",
)
annotations = alt.layer(arrow_rules, arrow_heads, form_rule, form_head, labels)

gradient = alt.LinearGradient(
    gradient="linear", x1=0, y1=1, x2=0, y2=0,
    stops=[alt.GradientStop(color=c, offset=o) for c, o in zip(RADIUS_COLORS, CBAR_OFFSETS)],
)
colorbar = alt.Chart(cbar_df).mark_rect(fill=gradient, stroke="black", strokeWidth=2).encode(
    x=alt.value(1569),
    x2=alt.value(1605),
    y=alt.Y("lo:Q", scale=cs, axis=cbar_axis),
    y2="hi:Q",
)

chart = alt.layer(tesla_lines, mv_lines, annotations, colorbar).resolve_scale(
    y="independent"
).properties(
    width=1468,
    height=688,
    autosize=alt.AutoSizeParams(type="none"),
    padding={"left": 149, "top": 4, "right": 247, "bottom": 90},
    background="white",
).configure_view(
    stroke=None, fill="#f4f4f4"
).configure_axis(
    labelFont=FONT, titleFont=FONT, labelFontSize=25, titleFontSize=25,
    titleFontWeight="normal", labelColor="black", titleColor="black",
    domainColor="black", tickColor="black", domainWidth=2, tickWidth=2, grid=False,
)

chart.save("out.html", embed_options={"renderer": "svg", "actions": False})
